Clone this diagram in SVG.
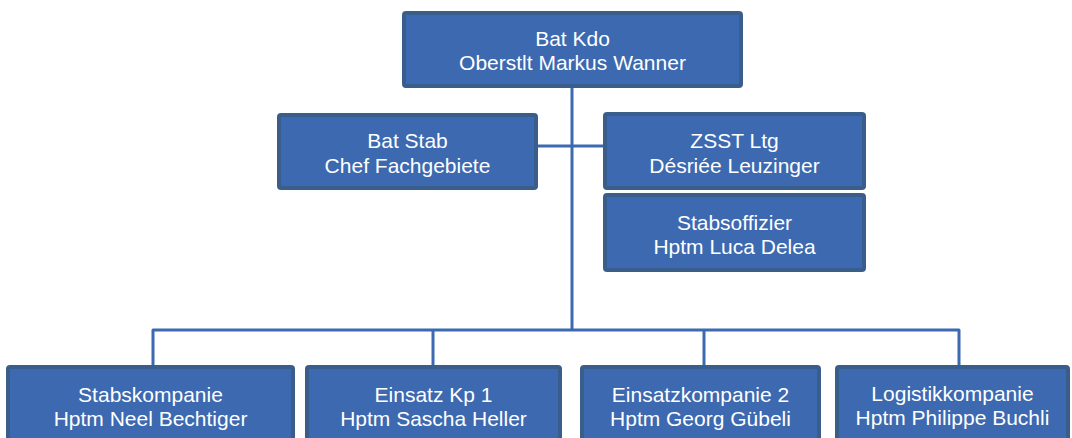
<svg xmlns="http://www.w3.org/2000/svg" width="1072" height="438" viewBox="0 0 1072 438">
<style>
.box{fill:#3C69B0;stroke:#3A5E8C;stroke-width:4}
.t{font-family:"Liberation Sans",Arial,sans-serif;font-size:21px;fill:#FFFFFF;text-anchor:middle}
.c{fill:none;stroke:#3C69B0;stroke-width:3;stroke-linejoin:round}
</style>
<rect width="1072" height="438" fill="#FFFFFF"/>
<g id="connectors">
<path class="c" d="M572 88V330"/>
<path class="c" d="M538 146H603"/>
<path class="c" d="M153 365V330H959V365"/>
<path class="c" d="M433 330V365"/>
<path class="c" d="M704 330V365"/>
</g>
<g id="bat-kdo">
<rect class="box" x="404" y="13" width="337" height="73" rx="2"/>
<text class="t" x="572.5" y="46">Bat Kdo</text>
<text class="t" x="572.5" y="70">Oberstlt Markus Wanner</text>
</g>
<g id="bat-stab">
<rect class="box" x="279" y="115" width="257" height="73" rx="2"/>
<text class="t" x="407.5" y="148">Bat Stab</text>
<text class="t" x="407.5" y="173">Chef Fachgebiete</text>
</g>
<g id="zsst-ltg">
<rect class="box" x="605" y="114" width="259" height="74" rx="2"/>
<text class="t" x="734.5" y="148">ZSST Ltg</text>
<text class="t" x="734.5" y="173">Désriée Leuzinger</text>
</g>
<g id="stabsoffizier">
<rect class="box" x="605" y="195" width="259" height="75" rx="2"/>
<text class="t" x="734.5" y="230">Stabsoffizier</text>
<text class="t" x="734.5" y="254">Hptm Luca Delea</text>
</g>
<g id="stabskompanie">
<rect class="box" x="8" y="367" width="285" height="80" rx="2"/>
<text class="t" x="150.5" y="402">Stabskompanie</text>
<text class="t" x="150.5" y="426">Hptm Neel Bechtiger</text>
</g>
<g id="einsatz-kp-1">
<rect class="box" x="307" y="367" width="253" height="80" rx="2"/>
<text class="t" x="433.5" y="402">Einsatz Kp 1</text>
<text class="t" x="433.5" y="426">Hptm Sascha Heller</text>
</g>
<g id="einsatzkompanie-2">
<rect class="box" x="582" y="367" width="237" height="80" rx="2"/>
<text class="t" x="700.5" y="402">Einsatzkompanie 2</text>
<text class="t" x="700.5" y="426">Hptm Georg Gübeli</text>
</g>
<g id="logistikkompanie">
<rect class="box" x="837" y="367" width="231" height="80" rx="2"/>
<text class="t" x="952.5" y="401">Logistikkompanie</text>
<text class="t" x="952.5" y="425">Hptm Philippe Buchli</text>
</g>
</svg>
